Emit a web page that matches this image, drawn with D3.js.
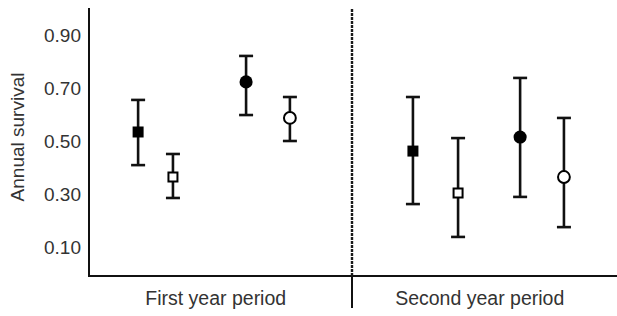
<!DOCTYPE html>
<html>
<head>
<meta charset="utf-8">
<script src="https://cdn.jsdelivr.net/npm/d3@7"></script>
<style>
    body { margin: 0; background: #fff; }
    text { font-family: "Liberation Sans", Arial, sans-serif; fill: #333; }
</style>
</head>
<body>
<div id="chart"></div>
<script>
// data
const periods = ["First year period", "Second year period"];
const periodIdx = [0, 0, 0, 0, 1, 1, 1, 1];
const pos = [0.186, 0.318, 0.595, 0.761, 0.227, 0.398, 0.633, 0.799]; // place within period
const shapes = ["square", "square", "circle", "circle", "square", "square", "circle", "circle"];
const filled = [true, false, true, false, true, false, true, false];
const estimate = [0.534, 0.364, 0.723, 0.587, 0.462, 0.304, 0.515, 0.364];
const upper = [0.655, 0.451, 0.821, 0.666, 0.666, 0.511, 0.738, 0.587];
const lower = [0.409, 0.285, 0.598, 0.500, 0.262, 0.138, 0.289, 0.175];
const yTicks = [0.10, 0.30, 0.50, 0.70, 0.90];

const width = 617, height = 316;
const margin = { top: 8, right: 0, bottom: 40, left: 89 };

const svg = d3.select("#chart").append("svg")
    .attr("width", width)
    .attr("height", height);

// scales
const x = d3.scaleLinear().domain([0, periods.length]).range([margin.left, width - margin.right]);
const y = d3.scaleLinear().domain([0.1, 0.9]).range([247, 35]);
const yBase = height - margin.bottom;

// y axis (labels only, line drawn separately)
const yAxis = d3.axisLeft(y).tickValues(yTicks).tickFormat(d3.format(".2f")).tickSize(0).tickPadding(8);
const gy = svg.append("g")
    .attr("transform", "translate(" + margin.left + ",0)")
    .call(yAxis);
gy.select(".domain").remove();
gy.selectAll("text")
    .style("font-size", "19px")
    .attr("fill", "#333");

svg.append("line")
    .attr("x1", margin.left).attr("x2", margin.left)
    .attr("y1", margin.top).attr("y2", yBase + 1)
    .attr("stroke", "#111").attr("stroke-width", 2);

svg.append("line")
    .attr("x1", margin.left - 1).attr("x2", width)
    .attr("y1", yBase).attr("y2", yBase)
    .attr("stroke", "#111").attr("stroke-width", 2);

// period divider
svg.append("line")
    .attr("x1", x(1) - 1).attr("x2", x(1) - 1)
    .attr("y1", 9).attr("y2", yBase)
    .attr("stroke", "#1a1a1a").attr("stroke-width", 2.4)
    .attr("stroke-dasharray", "3,1");
svg.append("line")
    .attr("x1", x(1) - 1).attr("x2", x(1) - 1)
    .attr("y1", yBase).attr("y2", 308)
    .attr("stroke", "#111").attr("stroke-width", 2);

// period labels
svg.selectAll(".period-label")
    .data(periods)
    .enter().append("text")
    .attr("class", "period-label")
    .attr("x", (d, i) => x(i + 0.48))
    .attr("y", 305)
    .attr("text-anchor", "middle")
    .style("font-size", "19.5px")
    .text(d => d);

// y title
svg.append("text")
    .attr("transform", "translate(24,137) rotate(-90)")
    .attr("text-anchor", "middle")
    .style("font-size", "19px")
    .text("Annual survival");

const points = estimate.map((e, i) => ({
    x: x(periodIdx[i] + pos[i]),
    est: e, hi: upper[i], lo: lower[i],
    shape: shapes[i], filled: filled[i]
}));

// error bars
const bars = svg.append("g").selectAll("g")
    .data(points)
    .enter().append("g")
    .attr("stroke", "#111")
    .attr("stroke-width", 2.6);

bars.append("line")
    .attr("x1", d => d.x).attr("x2", d => d.x)
    .attr("y1", d => y(d.hi)).attr("y2", d => y(d.lo));
bars.append("line")
    .attr("x1", d => d.x - 7).attr("x2", d => d.x + 7)
    .attr("y1", d => y(d.hi)).attr("y2", d => y(d.hi));
bars.append("line")
    .attr("x1", d => d.x - 7).attr("x2", d => d.x + 7)
    .attr("y1", d => y(d.lo)).attr("y2", d => y(d.lo));

// markers
svg.append("g").selectAll("path")
    .data(points)
    .enter().append("path")
    .attr("transform", d => "translate(" + d.x + "," + y(d.est) + ")")
    .attr("d", d => {
        if (d.shape === "square") {
            return d.filled ? d3.symbol(d3.symbolSquare, 121)() : d3.symbol(d3.symbolSquare, 81)();
        }
        return d.filled ? d3.symbol(d3.symbolCircle, 135)() : d3.symbol(d3.symbolCircle, 110)();
    })
    .attr("fill", d => d.filled ? "#000" : "#fff")
    .attr("stroke", "#000")
    .attr("stroke-width", d => d.filled ? 0 : 2);
</script>
</body>
</html>
